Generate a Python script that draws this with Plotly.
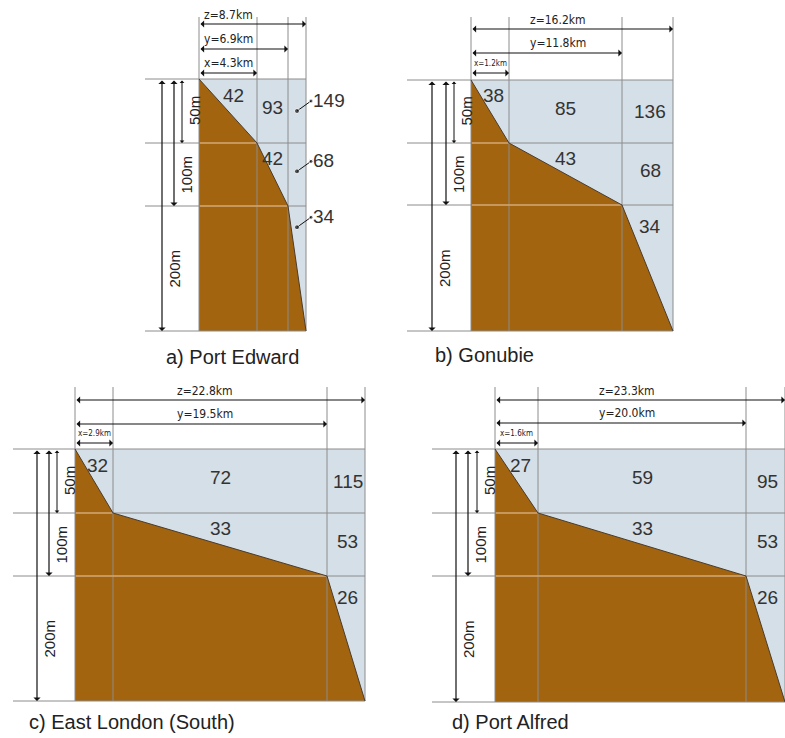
import numpy as np
import plotly.graph_objects as go

# ---------------- data ----------------
panel_titles = ["a) Port Edward", "b) Gonubie", "c) East London (South)", "d) Port Alfred"]
depth_m = [0, 50, 100, 200]
depth_labels = ["50m", "100m", "200m"]
dist_x_km = [4.3, 1.2, 2.9, 1.6]
dist_y_km = [6.9, 11.8, 19.5, 20.0]
dist_z_km = [8.7, 16.2, 22.8, 23.3]
row1_values = [[42, 93, 149], [38, 85, 136], [32, 72, 115], [27, 59, 95]]
row2_values = [[42, 68], [43, 68], [33, 53], [33, 53]]
row3_values = [34, 34, 26, 26]

# ---------------- schematic geometry (pixel layout of each panel) ----------------
col_px = [[199, 257, 288, 306], [471, 509, 622, 673], [75, 113, 327, 365], [495, 538, 746, 785]]
row_px = [[79, 143, 206, 331], [80, 143, 205, 331], [449, 513, 576, 701], [449, 513, 576, 702]]
grid_left_px = [145, 407, 13, 432]
dim_line_px = [[73, 49, 24], [73, 53, 29], [443, 424, 400], [443, 423, 400]]  # x, y, z lines
ext_top_px = [17, 17, 387, 387]
dim_label_xpx = [228, 558, 205, 627]
arrow_px = [[182, 174, 162], [454, 446, 432], [57, 49, 37], [477, 468, 456]]  # 50m,100m,200m
title_px = [(164, 357), (433, 355), (27, 722), (450, 722)]
outside_col3 = [True, False, False, False]
x_label_size = [12, 8, 8, 8]

W, H = 785, 738

# ---------------- styles ----------------
BROWN = "#A2640F"
SEA = "#D5DFE7"
GRID = "#8C8C8C"
TAN = "#D9A263"
TXT = "#333333"
FONT = "Liberation Sans, Arial, sans-serif"
NARROW = "DejaVu Sans Condensed, Liberation Sans Narrow, Arial Narrow, Liberation Sans, sans-serif"

fig = go.Figure()
annotations = []


def line(xs, ys, color=GRID, width=1):
    fig.add_trace(go.Scatter(x=xs, y=ys, mode="lines", line=dict(color=color, width=width),
                             hoverinfo="skip", showlegend=False))


def darrow(x0, y0, x1, y1, w=1.2, size=1.0):
    annotations.append(dict(x=x1, y=y1, ax=x0, ay=y0, xref="x", yref="y", axref="x", ayref="y",
                            text="", showarrow=True, arrowhead=1, startarrowhead=1,
                            arrowside="end+start", arrowsize=size, startarrowsize=size,
                            arrowwidth=w, arrowcolor="#111111"))


def text(x, y, s, size=19, color=TXT, family=FONT, xanchor="center", yanchor="middle", angle=0):
    annotations.append(dict(x=x, y=y, xref="x", yref="y", text=s, showarrow=False,
                            font=dict(size=size, color=color, family=family),
                            xanchor=xanchor, yanchor=yanchor, textangle=angle))


for p in range(4):
    km = [0, dist_x_km[p], dist_y_km[p], dist_z_km[p]]
    cols = col_px[p]
    rows = row_px[p]
    to_px = lambda v: float(np.interp(v, km, cols))
    to_py = lambda d: float(np.interp(d, depth_m, rows))
    L, R = cols[0], cols[-1]
    T, B = rows[0], rows[-1]

    # sea area
    fig.add_trace(go.Scatter(x=[L, R, R, L, L], y=[T, T, B, B, T], mode="lines", fill="toself",
                             fillcolor=SEA, line=dict(width=0), hoverinfo="skip", showlegend=False))
    # sea bed profile
    prof_x = [to_px(v) for v in km]
    prof_y = [to_py(d) for d in depth_m]
    fig.add_trace(go.Scatter(x=prof_x + [L, L], y=prof_y + [B, T], mode="lines", fill="toself",
                             fillcolor=BROWN, line=dict(width=0), hoverinfo="skip", showlegend=False))

    # grid: horizontal lines (extending left), vertical lines (extending up)
    for r in rows:
        line([grid_left_px[p], R], [r, r])
    for c in cols:
        line([c, c], [ext_top_px[p], B])
    # light lines inside the bed
    line([L + 1, prof_x[1] - 1], [rows[1], rows[1]], color=TAN, width=1.5)
    line([L + 1, prof_x[2] - 1], [rows[2], rows[2]], color=TAN, width=1.5)
    # profile outline
    line(prof_x, prof_y, color="#4A3C2E", width=1)

    # dimension lines
    xl, yl, zl = dim_line_px[p]
    darrow(L, xl, prof_x[1], xl)
    darrow(L, yl, prof_x[2], yl)
    darrow(L, zl, prof_x[3], zl)
    text((L + prof_x[1]) / 2, xl - 10, "x=%.1fkm" % dist_x_km[p], size=x_label_size[p], family=NARROW,
         color="#222222")
    text(dim_label_xpx[p], yl - 10, "y=%.1fkm" % dist_y_km[p], size=12, family=NARROW, color="#222222")
    text(dim_label_xpx[p], zl - 9, "z=%.1fkm" % dist_z_km[p], size=12, family=NARROW, color="#222222")

    # depth arrows
    for i, d in enumerate(depth_m[1:]):
        ax = arrow_px[p][i]
        darrow(ax, T, ax, to_py(d), w=1.2 if i else 1.0, size=1.0 if i else 0.8)
        yc = (to_py(depth_m[i]) + to_py(d)) / 2
        text(ax + 12, yc, depth_labels[i], size=15, color="#222222", angle=-90)

    # cell values
    h1 = rows[1] - rows[0]
    h2 = rows[2] - rows[1]
    h3 = rows[3] - rows[2]
    c3x = cols[2] + 0.55 * (cols[3] - cols[2])
    text(cols[0] + 0.6 * (cols[1] - cols[0]), rows[0] + 0.25 * h1, str(row1_values[p][0]))
    text((cols[1] + cols[2]) / 2, rows[0] + 0.45 * h1, str(row1_values[p][1]))
    text((cols[1] + cols[2]) / 2, rows[1] + 0.25 * h2, str(row2_values[p][0]))
    col3_vals = [row1_values[p][2], row2_values[p][1], row3_values[p]]
    col3_y = [rows[0] + 0.5 * h1, rows[1] + 0.45 * h2, rows[2] + 0.17 * h3]
    if outside_col3[p]:
        dot_x = (cols[2] + cols[3]) / 2
        for v, yy in zip(col3_vals, col3_y):
            fig.add_trace(go.Scatter(x=[dot_x, R + 5], y=[yy, yy - 10], mode="lines+markers",
                                     line=dict(color="#111111", width=1),
                                     marker=dict(size=[5, 4], color="#111111"),
                                     hoverinfo="skip", showlegend=False))
            text(R + 5, yy - 11, str(v), xanchor="left")
    else:
        for v, yy in zip(col3_vals, col3_y):
            text(c3x, yy, str(v))

    # title
    tx, ty = title_px[p]
    text(tx, ty, panel_titles[p], size=20, xanchor="left", color="#222222")

fig.update_layout(
    width=W, height=H,
    margin=dict(l=0, r=0, t=0, b=0),
    paper_bgcolor="white", plot_bgcolor="white",
    xaxis=dict(range=[0, W], visible=False, fixedrange=True),
    yaxis=dict(range=[H, 0], visible=False, fixedrange=True),
    annotations=annotations,
    showlegend=False,
)

fig.write_html("out.html", config={"displayModeBar": False},
               post_script="document.body.style.margin='0';document.body.style.overflow='hidden';")
